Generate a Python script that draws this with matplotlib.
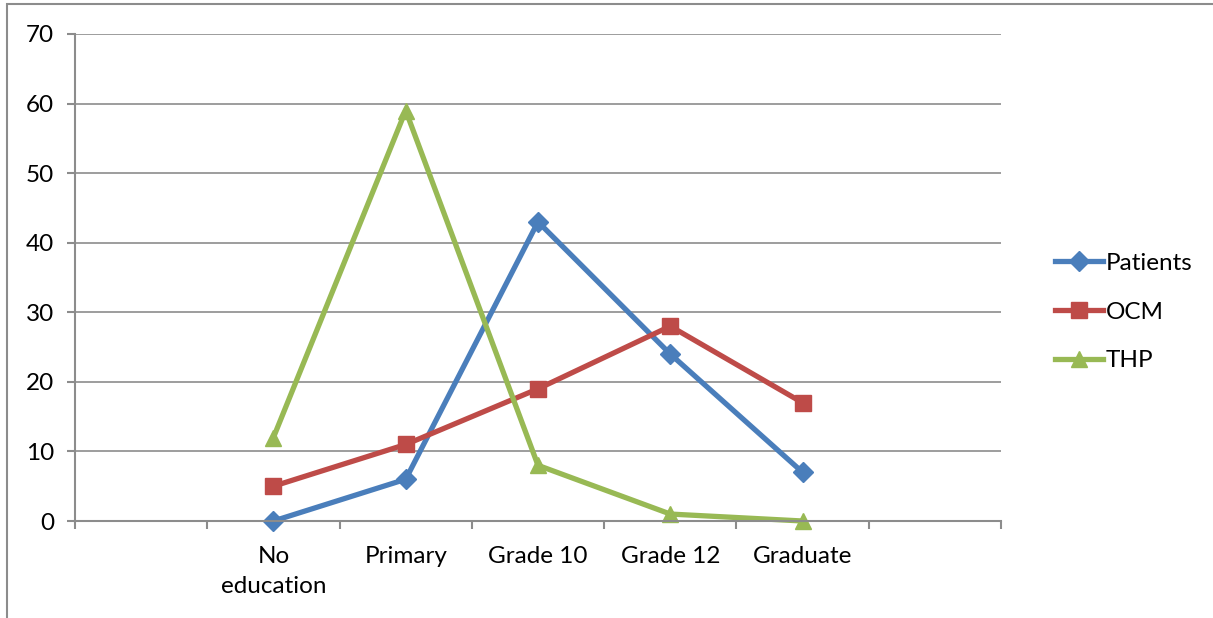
import matplotlib.pyplot as plt
from matplotlib.patches import Rectangle

# data
categories = ['No\neducation', 'Primary', 'Grade 10', 'Grade 12', 'Graduate']
patients = [0, 6, 43, 24, 7]
ocm = [5, 11, 19, 28, 17]
thp = [12, 59, 8, 1, 0]

plt.rcParams['font.family'] = ['Lato', 'DejaVu Sans']

fig = plt.figure(figsize=(12.13, 6.18), dpi=100)
ax = fig.add_axes([75 / 1213, 1 - 521 / 618, 926 / 1213, 487 / 618])

# outer chart frame
fig.patches.append(Rectangle((7 / 1213, -0.1), 1.2, (618 - 4) / 618 + 0.1,
                             transform=fig.transFigure, fill=False,
                             edgecolor='#8c8c8c', linewidth=1.5))

x = [1, 2, 3, 4, 5]
ax.plot(x, patients, color='#4A7EBB', lw=3.8, marker='D', ms=10, label='Patients', clip_on=False)
ax.plot(x, ocm, color='#BE4B48', lw=3.8, marker='s', ms=11, label='OCM', clip_on=False)
ax.plot(x, thp, color='#98B954', lw=3.8, marker='^', ms=12, label='THP', clip_on=False)

ax.set_xlim(-0.5, 6.5)
ax.set_ylim(0, 70)
ax.set_yticks(range(0, 71, 10))
ax.set_xticks([i - 0.5 for i in range(8)])
ax.set_xticklabels([])
ax.set_xticks(x, minor=True)
ax.set_xticklabels(categories, minor=True, linespacing=1.55)
ax.tick_params(axis='x', which='minor', length=0, pad=18, labelsize=17.5)
ax.tick_params(axis='x', which='major', length=6, color='#8c8c8c', width=1.5)
ax.tick_params(axis='y', length=6, color='#8c8c8c', width=1.5, labelsize=17.5, pad=9)

ax.grid(axis='y', color='#8c8c8c', lw=1.2)
ax.set_axisbelow(True)
for s in ['top', 'right']:
    ax.spines[s].set_visible(False)
for s in ['left', 'bottom']:
    ax.spines[s].set_color('#8c8c8c')
    ax.spines[s].set_linewidth(1.5)

ax.legend(loc='center left', bbox_to_anchor=(1033 / 1213, 1 - 312 / 618),
          bbox_transform=fig.transFigure, frameon=False, fontsize=17.5,
          handlelength=2.0, handletextpad=0.1, labelspacing=1.15)

plt.savefig('out.png', dpi=100)
